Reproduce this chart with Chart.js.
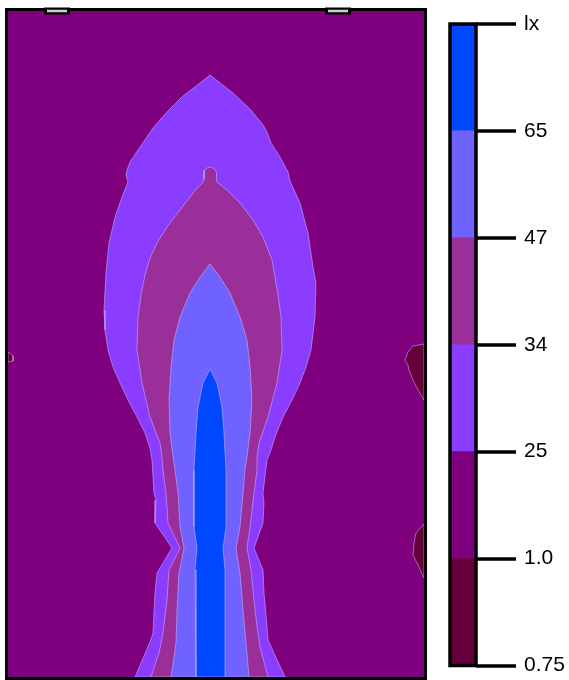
<!DOCTYPE html>
<html>
<head>
<meta charset="utf-8">
<title>Illuminance plan</title>
<script src="https://cdn.jsdelivr.net/npm/chart.js@4.4.1/dist/chart.umd.min.js"></script>
<style>
  html, body { margin: 0; padding: 0; background: #fff; }
  #wrap { position: relative; width: 569px; height: 680px; }
  #plan { position: absolute; left: 0; top: 0; }
  #scale { position: absolute; left: 440px; top: 0; }
</style>
</head>
<body>
<div id="wrap">
  <canvas id="plan" width="432" height="680"></canvas>
  <canvas id="scale" width="129" height="680"></canvas>
</div>
<script>
// Floor of the room in metres: x across, y away from the luminaire wall
const roomWidth = 4.16;
const roomLength = 6.66;
const luminaireX = [0.49, 3.30];

// Iso-lux outlines as [x, y] rings (metres)
const iso25 = [
  [2.02,0.64],[1.92,0.72],[1.75,0.85],[1.59,1.01],[1.45,1.17],[1.32,1.36],[1.22,1.51],[1.19,1.59],
  [1.18,1.64],[1.20,1.71],[1.14,1.86],[1.07,2.06],[1.01,2.32],[0.98,2.62],[0.96,2.99],[0.97,3.19],
  [1.00,3.39],[1.05,3.56],[1.12,3.72],[1.20,3.89],[1.29,4.06],[1.37,4.22],[1.42,4.37],[1.44,4.49],
  [1.46,4.82],[1.48,4.89],[1.47,5.12],[1.64,5.37],[1.49,5.62],[1.47,5.82],[1.45,6.22],[1.42,6.31],
  [1.27,6.66],[2.77,6.66],[2.60,6.29],[2.59,6.16],[2.56,5.82],[2.55,5.59],[2.46,5.37],[2.55,5.12],
  [2.56,4.92],[2.55,4.82],[2.59,4.49],[2.63,4.39],[2.67,4.26],[2.75,4.06],[2.84,3.89],[2.92,3.72],
  [2.98,3.56],[3.03,3.39],[3.07,3.06],[3.08,2.72],[3.05,2.56],[3.00,2.22],[2.92,1.92],[2.82,1.70],
  [2.80,1.61],[2.72,1.46],[2.63,1.32],[2.59,1.21],[2.55,1.14],[2.42,0.98],[2.25,0.82]
];
const iso34 = [
  [2.02,1.56],[1.99,1.57],[1.965,1.59],[1.96,1.62],[1.96,1.68],[1.95,1.71],[1.85,1.82],[1.72,1.99],
  [1.59,2.16],[1.49,2.32],[1.42,2.47],[1.37,2.64],[1.33,2.84],[1.30,3.06],[1.29,3.39],[1.34,3.72],
  [1.42,4.06],[1.52,4.32],[1.54,4.46],[1.55,4.59],[1.58,4.82],[1.60,5.12],[1.72,5.37],[1.61,5.59],
  [1.59,5.89],[1.55,6.22],[1.51,6.42],[1.43,6.66],[2.60,6.66],[2.52,6.36],[2.49,6.16],[2.46,5.89],
  [2.43,5.59],[2.39,5.37],[2.42,5.16],[2.46,4.82],[2.49,4.59],[2.49,4.46],[2.51,4.32],[2.60,4.06],
  [2.69,3.72],[2.74,3.39],[2.73,3.06],[2.70,2.84],[2.68,2.72],[2.64,2.49],[2.55,2.26],[2.45,2.09],
  [2.32,1.92],[2.19,1.79],[2.09,1.71],[2.085,1.68],[2.085,1.62],[2.075,1.59],[2.05,1.57]
];
const iso47 = [
  [2.02,2.53],[1.92,2.66],[1.82,2.82],[1.72,3.06],[1.66,3.29],[1.63,3.56],[1.61,3.89],[1.62,4.22],
  [1.65,4.46],[1.67,4.59],[1.70,4.82],[1.72,5.16],[1.76,5.37],[1.71,5.62],[1.69,5.99],[1.68,6.32],
  [1.63,6.66],[2.41,6.66],[2.38,6.32],[2.35,5.99],[2.32,5.62],[2.28,5.37],[2.32,5.16],[2.35,4.82],
  [2.37,4.59],[2.39,4.46],[2.42,4.22],[2.44,3.89],[2.42,3.56],[2.39,3.29],[2.32,3.06],[2.22,2.82],
  [2.12,2.66]
];
const iso65 = [
  [2.02,3.58],[1.95,3.72],[1.90,3.96],[1.88,4.22],[1.86,4.59],[1.86,5.16],[1.89,5.37],[1.87,5.59],
  [1.88,6.66],[2.16,6.66],[2.17,5.59],[2.15,5.37],[2.18,5.16],[2.18,4.59],[2.16,4.22],[2.14,3.96],
  [2.09,3.72]
];
// Patches below 1.0 lx along the side walls
const under1East = [[4.16,3.33],[4.05,3.35],[4.00,3.41],[3.97,3.49],[4.00,3.54],[4.01,3.59],[4.05,3.69],[4.10,3.79],[4.16,3.89]];
const under1EastLow = [[4.16,5.13],[4.08,5.22],[4.06,5.32],[4.05,5.44],[4.10,5.54],[4.16,5.67]];
const under1West = [[0,3.41],[0.02,3.42],[0.05,3.45],[0.05,3.50],[0,3.51]];

// Colour key: level labels from the bottom of the bar up
const scaleLabels = ['0.75', '1.0', '25', '34', '47', '65', 'lx'];

// Styling
const bandColors = ['#66003b', '#7e007e', '#8a3dff', '#9a2f9a', '#7062ff', '#0048ff'];
const edgeColor = 'rgba(200,180,255,0.55)';
const lumHalf = 0.13;
const lumLensHalf = 0.10;

const ring = pts => {
  const d = pts.map(([x, y]) => ({ x, y }));
  d.push({ ...d[0] });
  return d;
};
const zone = (pts, color, edge = 1) => ({
  data: ring(pts),
  showLine: true,
  fill: 'shape',
  backgroundColor: color,
  borderColor: edge ? edgeColor : color,
  borderWidth: edge,
  pointRadius: 0,
  tension: 0,
  clip: 0
});
const floor = [[0, 0], [roomWidth, 0], [roomWidth, roomLength], [0, roomLength]];

const luminaireBodies = luminaireX.map(x => ({
  data: [{ x: x - lumHalf, y: 0 }, { x: x + lumHalf, y: 0 }],
  showLine: true, fill: false, borderColor: '#000', borderWidth: 7,
  borderCapStyle: 'butt', pointRadius: 0, clip: false
}));
const luminaireLenses = luminaireX.map(x => ({
  data: [{ x: x - lumLensHalf, y: 0 }, { x: x + lumLensHalf, y: 0 }],
  showLine: true, fill: false, borderColor: '#cfcfcf', borderWidth: 2.5,
  borderCapStyle: 'butt', pointRadius: 0, clip: false
}));

// First dataset is painted last (on top)
const planDatasets = [
  ...luminaireLenses,
  ...luminaireBodies,
  zone(iso65, bandColors[5]),
  zone(iso47, bandColors[4]),
  zone(iso34, bandColors[3]),
  zone(iso25, bandColors[2]),
  zone(under1East, bandColors[0]),
  zone(under1EastLow, bandColors[0]),
  zone(under1West, bandColors[0]),
  zone(floor, bandColors[1], 0)
];

const outerFrame = (width) => ({
  id: 'outerFrame',
  beforeDatasetsDraw(chart) {
    const { ctx, chartArea: a } = chart;
    ctx.save();
    ctx.lineWidth = width;
    ctx.strokeStyle = '#000';
    ctx.strokeRect(a.left - width / 2, a.top - width / 2, a.right - a.left + width, a.bottom - a.top + width);
    ctx.restore();
  }
});

new Chart(document.getElementById('plan'), {
  type: 'scatter',
  data: { datasets: planDatasets },
  options: {
    responsive: false,
    animation: false,
    events: [],
    layout: { padding: { left: 8, top: 11, right: 8, bottom: 3 } },
    scales: {
      x: { type: 'linear', min: 0, max: roomWidth, display: false },
      y: { type: 'linear', min: 0, max: roomLength, reverse: true, display: false }
    },
    plugins: { legend: { display: false }, tooltip: { enabled: false } }
  },
  plugins: [outerFrame(3)]
});

// Colour key bar
const keyFrame = {
  id: 'keyFrame',
  afterDraw(chart) {
    const { ctx, chartArea: a } = chart;
    ctx.save();
    ctx.lineWidth = 3.5;
    ctx.strokeStyle = '#000';
    ctx.strokeRect(a.left, a.top, a.right - a.left, a.bottom - a.top);
    ctx.restore();
  }
};

const keyDatasets = bandColors.map(c => ({
  data: [1],
  backgroundColor: c,
  borderWidth: 0,
  barPercentage: 1,
  categoryPercentage: 1
}));

new Chart(document.getElementById('scale'), {
  type: 'bar',
  data: { labels: [''], datasets: keyDatasets },
  options: {
    responsive: false,
    animation: false,
    events: [],
    layout: { padding: { left: 10, top: 24, right: 0, bottom: 14.5 } },
    scales: {
      x: { stacked: true, display: false },
      y: {
        stacked: true,
        position: 'right',
        min: 0,
        max: scaleLabels.length - 1,
        z: 1,
        afterFit(scale) {
          scale.width = 93;
          scale.paddingTop = 0;
          scale.paddingBottom = 0;
        },
        border: { display: false },
        grid: {
          color: '#000', lineWidth: 2, drawOnChartArea: true,
          tickLength: 40, tickWidth: 3.5, tickColor: '#000'
        },
        ticks: {
          stepSize: 1,
          padding: 8,
          color: '#000',
          font: { family: "'Liberation Sans', Arial, sans-serif", size: 21 },
          callback: v => scaleLabels[v]
        }
      }
    },
    plugins: { legend: { display: false }, tooltip: { enabled: false } }
  },
  plugins: [keyFrame]
});
</script>
</body>
</html>
